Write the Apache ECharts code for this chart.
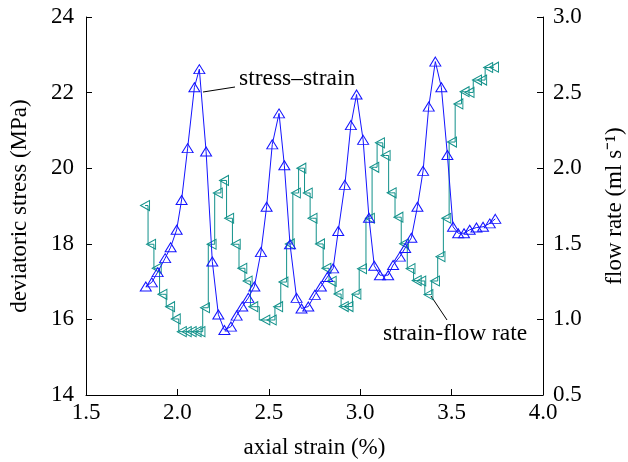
<!DOCTYPE html>
<html>
<head>
<meta charset="utf-8">
<script src="https://cdn.jsdelivr.net/npm/echarts@6/dist/echarts.min.js"></script>
<style>
  html, body { margin: 0; padding: 0; background: #fff; }
  #chart { width: 628px; height: 462px; }
</style>
</head>
<body>
<div id="chart"></div>
<script>
// stress-strain curve: axial strain (%) and deviatoric stress (MPa)
const stressStrain = [1.827, 1.860, 1.892, 1.933, 1.963, 1.996, 2.023, 2.056, 2.093, 2.120,
  2.157, 2.191, 2.224, 2.257, 2.293, 2.324, 2.355, 2.388, 2.421, 2.457,
  2.488, 2.519, 2.556, 2.585, 2.616, 2.652, 2.679, 2.716, 2.752, 2.785,
  2.820, 2.852, 2.880, 2.916, 2.949, 2.980, 3.016, 3.048, 3.077, 3.108,
  3.153, 3.180, 3.217, 3.246, 3.280, 3.313, 3.344, 3.375, 3.411, 3.444,
  3.477, 3.508, 3.536, 3.568, 3.599, 3.636, 3.672, 3.709, 3.739];
const stressValues = [16.87, 16.98, 17.25, 17.62, 17.91, 18.37, 19.16, 20.53, 22.14, 22.62,
  20.44, 17.53, 16.13, 15.72, 15.81, 16.10, 16.34, 16.57, 16.87, 17.78,
  18.98, 20.63, 21.45, 20.08, 17.99, 16.57, 16.29, 16.34, 16.65, 16.87,
  17.12, 17.35, 18.34, 19.56, 21.14, 21.95, 20.75, 18.69, 17.42, 17.17,
  17.17, 17.44, 17.66, 17.89, 18.16, 18.98, 19.93, 21.63, 22.82, 22.14,
  20.35, 18.45, 18.28, 18.28, 18.37, 18.43, 18.45, 18.54, 18.66];

// strain-flow rate curve: axial strain (%) and flow rate (ml s^-1)
const flowStrain = [1.823, 1.856, 1.887, 1.918, 1.960, 1.991, 2.024, 2.051, 2.078, 2.105,
  2.126, 2.151, 2.187, 2.221, 2.255, 2.283, 2.319, 2.355, 2.384, 2.415,
  2.481, 2.516, 2.551, 2.580, 2.615, 2.648, 2.678, 2.713, 2.739, 2.780,
  2.815, 2.844, 2.881, 2.910, 2.936, 2.979, 3.010, 3.053, 3.077, 3.108,
  3.139, 3.172, 3.209, 3.240, 3.275, 3.309, 3.334, 3.373, 3.409, 3.439,
  3.471, 3.502, 3.537, 3.571, 3.598, 3.639, 3.667, 3.700, 3.732];
const flowValues = [1.753, 1.497, 1.338, 1.166, 1.084, 1.003, 0.919, 0.919, 0.919, 0.919,
  0.919, 1.077, 1.497, 1.836, 1.919, 1.669, 1.497, 1.338, 1.254, 1.084,
  0.996, 0.996, 1.084, 1.247, 1.499, 1.836, 2.000, 1.836, 1.669, 1.499,
  1.338, 1.252, 1.168, 1.085, 1.085, 1.167, 1.335, 1.669, 2.006, 2.168,
  2.084, 1.837, 1.676, 1.500, 1.336, 1.257, 1.254, 1.164, 1.254, 1.415,
  1.669, 2.173, 2.425, 2.506, 2.501, 2.583, 2.583, 2.666, 2.668];

const BLUE = "#1414ff";
const TEAL = "#11918a";
const FONT = "Liberation Serif";
const FS = 23;
const NOTE_FS = 23.5;

const chart = echarts.init(document.getElementById("chart"), null, { renderer: "canvas" });

const axisCommon = {
  axisLine: { show: true, lineStyle: { color: "#000", width: 1 } },
  axisTick: { show: true, inside: true, length: 6, lineStyle: { color: "#000" } },
  splitLine: { show: false },
  axisLabel: { color: "#000", fontFamily: FONT, fontSize: FS },
  nameTextStyle: { color: "#000", fontFamily: FONT, fontSize: FS },
};

chart.setOption({
  animation: false,
  backgroundColor: "#fff",
  grid: { left: 86, right: 85, top: 17, bottom: 67, containLabel: false, outerBoundsMode: "none" },
  xAxis: {
    ...axisCommon,
    type: "value",
    min: 1.5,
    max: 4.0,
    interval: 0.5,
    name: "axial strain (%)",
    nameLocation: "middle",
    nameGap: 41,
    axisLabel: { ...axisCommon.axisLabel, margin: 6, formatter: (v) => v.toFixed(1) },
  },
  yAxis: [
    {
      ...axisCommon,
      type: "value",
      min: 14,
      max: 24,
      interval: 2,
      name: "deviatoric stress (MPa)",
      nameLocation: "middle",
      nameGap: 55,
      axisLabel: { ...axisCommon.axisLabel, margin: 12 },
    },
    {
      ...axisCommon,
      type: "value",
      position: "right",
      min: 0.5,
      max: 3.0,
      interval: 0.5,
      name: "flow rate (ml s\u207B\u00B9)",
      nameLocation: "middle",
      nameGap: 60,
      nameRotate: 90,
      axisLabel: { ...axisCommon.axisLabel, margin: 10, formatter: (v) => v.toFixed(1) },
    },
  ],
  series: [
    {
      name: "strain-flow rate",
      type: "line",
      yAxisIndex: 1,
      step: "middle",
      data: flowStrain.map((x, i) => [x, flowValues[i]]),
      symbol: "triangle",
      symbolSize: [10, 9],
      symbolRotate: 90,
      showAllSymbol: true,
      lineStyle: { color: TEAL, width: 1 },
      itemStyle: { color: "rgba(0,0,0,0)", borderColor: TEAL, borderWidth: 1 },
      z: 2,
    },
    {
      name: "stress-strain",
      type: "line",
      yAxisIndex: 0,
      data: stressStrain.map((x, i) => [x, stressValues[i]]),
      symbol: "triangle",
      symbolSize: [11, 9],
      showAllSymbol: true,
      lineStyle: { color: BLUE, width: 1 },
      itemStyle: { color: "rgba(0,0,0,0)", borderColor: BLUE, borderWidth: 1 },
      z: 3,
    },
  ],
  graphic: [
    {
      type: "line",
      shape: { x1: 203, y1: 92, x2: 235, y2: 87 },
      style: { stroke: "#000", lineWidth: 1 },
    },
    {
      type: "text",
      left: 239,
      top: 67,
      style: { text: "stress\u2013strain", fill: "#000", font: NOTE_FS + "px " + FONT },
    },
    {
      type: "line",
      shape: { x1: 431, y1: 296, x2: 447, y2: 320 },
      style: { stroke: "#000", lineWidth: 1 },
    },
    {
      type: "text",
      left: 383,
      top: 322,
      style: { text: "strain-flow rate", fill: "#000", font: NOTE_FS + "px " + FONT },
    },
  ],
});
</script>
</body>
</html>
